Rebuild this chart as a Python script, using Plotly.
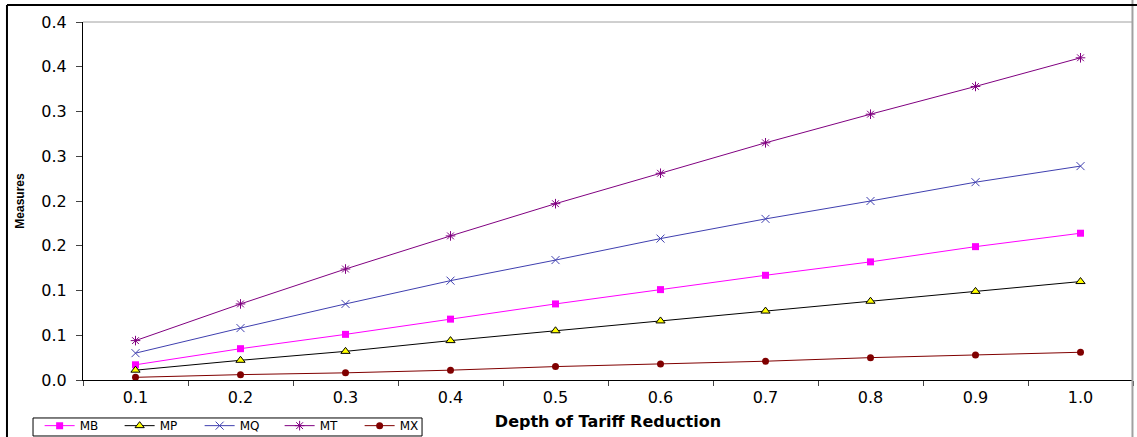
import plotly.graph_objects as go

categories = ["0.1", "0.2", "0.3", "0.4", "0.5", "0.6", "0.7", "0.8", "0.9", "1.0"]
MB = [0.017, 0.035, 0.051, 0.068, 0.085, 0.101, 0.117, 0.132, 0.149, 0.164]
MP = [0.011, 0.022, 0.032, 0.044, 0.055, 0.066, 0.077, 0.088, 0.099, 0.110]
MQ = [0.030, 0.058, 0.085, 0.111, 0.134, 0.158, 0.180, 0.200, 0.221, 0.239]
MT = [0.044, 0.085, 0.124, 0.161, 0.197, 0.231, 0.265, 0.297, 0.328, 0.360]
MX = [0.003, 0.006, 0.008, 0.011, 0.015, 0.018, 0.021, 0.025, 0.028, 0.031]
y_tickvals = [0, 0.05, 0.1, 0.15, 0.2, 0.25, 0.3, 0.35, 0.4]
y_ticktext = ["0.0", "0.1", "0.1", "0.2", "0.2", "0.3", "0.3", "0.4", "0.4"]

series = [
    ("MB", MB, dict(color="#FF00FF", symbol="square", size=7), "#FF00FF"),
    ("MP", MP, dict(color="#FFFF00", symbol="triangle-up", size=8, line=dict(color="black", width=1)), "black"),
    ("MQ", MQ, dict(color="#3F3FAF", symbol="x-thin", size=8, line=dict(color="#3F3FAF", width=1)), "#3F3FAF"),
    ("MT", MT, dict(color="#800080", symbol="asterisk", size=8, line=dict(color="#800080", width=1)), "#800080"),
    ("MX", MX, dict(color="#800000", symbol="circle", size=7), "#800000"),
]

fig = go.Figure()
for name, vals, marker, lc in series:
    fig.add_trace(go.Scatter(x=categories, y=vals, name=name, mode="lines+markers",
                             line=dict(color=lc, width=1), marker=marker))

font = "DejaVu Sans, Arial, sans-serif"
fig.update_layout(
    width=1137, height=437,
    margin=dict(l=83, r=4, t=22, b=57, autoexpand=False),
    paper_bgcolor="white", plot_bgcolor="white",
    font=dict(family=font, color="black", size=14),
    showlegend=True,
    legend=dict(orientation="h", x=-0.0413, y=-0.087, xanchor="left", yanchor="top",
                bordercolor="black", borderwidth=0, font=dict(size=12),
                entrywidth=35, entrywidthmode="pixels", itemwidth=30,
                tracegroupgap=0, bgcolor="rgba(0,0,0,0)"),
    xaxis=dict(type="category", categoryorder="array", categoryarray=categories,
               range=[-0.5, 9.5], tickson="boundaries", ticks="outside", ticklen=5,
               showline=True, linecolor="black", linewidth=1, showgrid=False,
               tickfont=dict(size=16), zeroline=False, ticklabelstandoff=3,
               title=dict(text="<b>Depth of Tariff Reduction</b>", font=dict(size=16), standoff=9)),
    yaxis=dict(range=[0, 0.4], tickvals=y_tickvals, ticktext=y_ticktext,
               ticks="outside", ticklen=6, showline=True, linecolor="black", linewidth=1,
               showgrid=False, zeroline=False, tickfont=dict(size=16), ticklabelstandoff=6,
               title=dict(text="<b>Measures</b>",
                          font=dict(size=12, family="Liberation Sans, Arial, sans-serif"), standoff=14)),
)

# plot-area border (top/right, grey) and outer chart frame
fig.add_shape(type="line", xref="paper", yref="paper", x0=0, x1=1, y0=1, y1=1,
              line=dict(color="#A0A0A0", width=1))
fig.add_shape(type="line", xref="paper", yref="paper", x0=0.9995, x1=0.9995, y0=-0.2, y1=1.2,
              line=dict(color="#A0A0A0", width=2))
fig.add_shape(type="line", xref="paper", yref="paper", x0=-0.0724, x1=-0.0724, y0=-0.2, y1=1.0475,
              line=dict(color="black", width=2))
fig.add_shape(type="line", xref="paper", yref="paper", x0=-0.0724, x1=1.02, y0=1.0475, y1=1.0475,
              line=dict(color="black", width=2))
# legend frame
fig.add_shape(type="rect", xref="paper", yref="paper", x0=-0.0476, x1=0.3229, y0=-0.1564, y1=-0.1061,
              line=dict(color="black", width=1), fillcolor="rgba(0,0,0,0)")

fig.write_html("out.html", config={"displayModeBar": False},
               post_script="document.body.style.margin='0';")
